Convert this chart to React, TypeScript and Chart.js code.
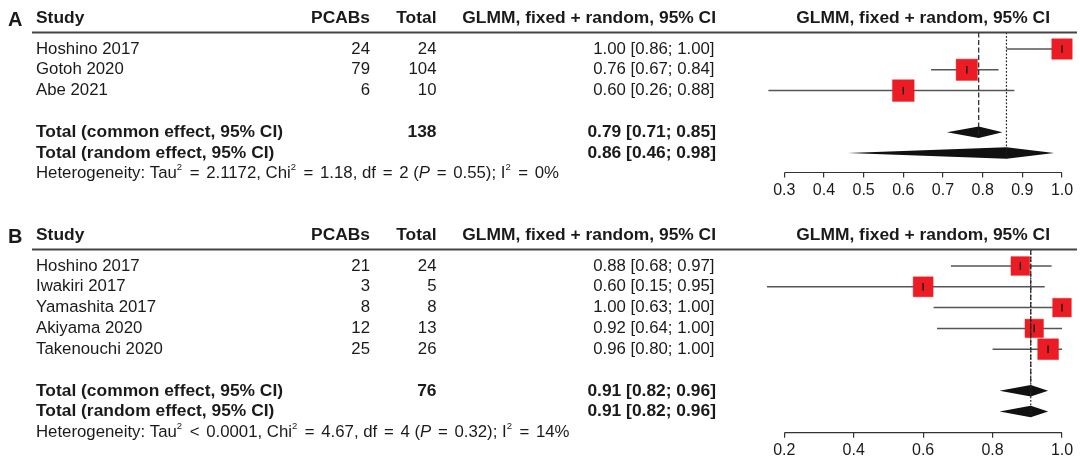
import React, { useEffect, useRef } from 'react';
import { Chart, registerables } from 'chart.js';

Chart.register(...registerables);

const FONT = '"Liberation Sans", Arial, Helvetica, sans-serif';
const TEXT = '#1a1a1a';

// ---------- Panel A data ----------
const studiesA = ['Hoshino 2017', 'Gotoh 2020', 'Abe 2021'];
const eventsA = [24, 79, 6];
const totalsA = [24, 104, 10];
const estimatesA = [1.0, 0.76, 0.6];
const lowersA = [0.86, 0.67, 0.26];
const uppersA = [1.0, 0.84, 0.88];
const weightsA = [31.2, 33.8, 35.0];
const commonA = [0.79, 0.71, 0.85];
const randomA = [0.86, 0.46, 0.98];
const pooledNA = 138;
const heteroA = ['=', '2.1172', '1.18', '2', '0.55', '0%'];
const ticksA = [0.3, 0.4, 0.5, 0.6, 0.7, 0.8, 0.9, 1.0];

// ---------- Panel B data ----------
const studiesB = ['Hoshino 2017', 'Iwakiri 2017', 'Yamashita 2017', 'Akiyama 2020', 'Takenouchi 2020'];
const eventsB = [21, 3, 8, 12, 25];
const totalsB = [24, 5, 8, 13, 26];
const estimatesB = [0.88, 0.6, 1.0, 0.92, 0.96];
const lowersB = [0.68, 0.15, 0.63, 0.64, 0.8];
const uppersB = [0.97, 0.95, 1.0, 1.0, 1.0];
const weightsB = [18.8, 21.3, 18.6, 18.2, 23.1];
const commonB = [0.91, 0.82, 0.96];
const randomB = [0.91, 0.82, 0.96];
const pooledNB = 76;
const heteroB = ['<', '0.0001', '4.67', '4', '0.32', '14%'];
const ticksB = [0.2, 0.4, 0.6, 0.8, 1.0];

const headerCols = ['Study', 'PCABs', 'Total', 'GLMM, fixed + random, 95% CI'];
const commonLabel = 'Total (common effect, 95% CI)';
const randomLabel = 'Total (random effect, 95% CI)';

type Panel = {
  label: string;
  studies: string[];
  events: number[];
  totals: number[];
  est: number[];
  lo: number[];
  hi: number[];
  weights: number[];
  common: number[];
  random: number[];
  pooledN: number;
  hetero: string[];
  ticks: number[];
};

type Layout = { height: number; row0: number; step: number; axisY: number; boxMax: number };

const panelA: Panel = {
  label: 'A', studies: studiesA, events: eventsA, totals: totalsA, est: estimatesA,
  lo: lowersA, hi: uppersA, weights: weightsA, common: commonA, random: randomA,
  pooledN: pooledNA, hetero: heteroA, ticks: ticksA,
};
const panelB: Panel = {
  label: 'B', studies: studiesB, events: eventsB, totals: totalsB, est: estimatesB,
  lo: lowersB, hi: uppersB, weights: weightsB, common: commonB, random: randomB,
  pooledN: pooledNB, hetero: heteroB, ticks: ticksB,
};

const layoutA: Layout = { height: 212, row0: 49, step: 20.8, axisY: 172.5, boxMax: 21.7 };
const layoutB: Layout = { height: 254, row0: 54, step: 20.8, axisY: 220.7, boxMax: 20.8 };

// layout constants (pixels)
const AX_LEFT_PX = 784.3;
const AX_RIGHT_PX = 1062;
const AREA_LEFT = 764;
const AREA_RIGHT = 1078;
const TICK_LEN = 5;
const TICK_PAD = 3.6;
const TICK_SIZE = 16;
const HEADER_ROW = -1.48;
const RULE_ROW = -0.79;
const STUDY_X = 36;
const PCABS_RIGHT = 370;
const TOTAL_RIGHT = 436.5;
const CI_RIGHT = 714.5;
const CI_BOLD_RIGHT = 716;
const REG_SIZE = 16.8;
const REG = `${REG_SIZE}px ${FONT}`;
const BOLD = `bold 17.4px ${FONT}`;
const DIAMOND_HALF = 5.75;
const OP_GAP = 6.7;

const fmt = (v: number) => v.toFixed(2);
const ciText = (e: number, l: number, h: number) => `${fmt(e)} [${fmt(l)}; ${fmt(h)}]`;

function xBounds(p: Panel, left: number, right: number) {
  const v0 = p.ticks[0];
  const v1 = p.ticks[p.ticks.length - 1];
  const ppu = (AX_RIGHT_PX - AX_LEFT_PX) / (v1 - v0);
  return { min: v0 - (AX_LEFT_PX - left) / ppu, max: v1 + (right - AX_RIGHT_PX) / ppu };
}

function yBounds(L: Layout, top: number, bottom: number) {
  return { min: (top - L.row0) / L.step, max: (bottom - L.row0) / L.step };
}

function makePlugin(p: Panel) {
  const n = p.studies.length;
  return {
    id: 'forestTable' + p.label,
    beforeDatasetsDraw(chart: any) {
      const { ctx } = chart;
      const xs = chart.scales.x;
      const ys = chart.scales.y;
      const pooled = [p.common, p.random];
      ctx.save();
      ctx.fillStyle = '#111';
      pooled.forEach((c, k) => {
        const yc = ys.getPixelForValue(n + 1 + k);
        ctx.beginPath();
        ctx.moveTo(xs.getPixelForValue(c[1]), yc);
        ctx.lineTo(xs.getPixelForValue(c[0]), yc - DIAMOND_HALF);
        ctx.lineTo(xs.getPixelForValue(c[2]), yc);
        ctx.lineTo(xs.getPixelForValue(c[0]), yc + DIAMOND_HALF);
        ctx.closePath();
        ctx.fill();
      });
      ctx.restore();
    },
    afterDraw(chart: any) {
      const { ctx } = chart;
      const xs = chart.scales.x;
      const ys = chart.scales.y;
      const rowY = (r: number) => ys.getPixelForValue(r);
      const v0 = p.ticks[0];
      const v1 = p.ticks[p.ticks.length - 1];
      ctx.save();
      ctx.fillStyle = TEXT;
      ctx.textBaseline = 'middle';

      // panel letter
      const hy = rowY(HEADER_ROW);
      ctx.font = `bold 20px ${FONT}`;
      ctx.textAlign = 'left';
      ctx.fillText(p.label, 8, hy + 2);

      // header
      ctx.font = BOLD;
      ctx.fillText(headerCols[0], STUDY_X, hy);
      ctx.textAlign = 'right';
      ctx.fillText(headerCols[1], PCABS_RIGHT, hy);
      ctx.fillText(headerCols[2], TOTAL_RIGHT, hy);
      ctx.fillText(headerCols[3], CI_BOLD_RIGHT, hy);
      ctx.textAlign = 'center';
      ctx.fillText(headerCols[3], (xs.getPixelForValue(v0) + xs.getPixelForValue(v1)) / 2, hy);

      // header rule
      const ry = rowY(RULE_ROW);
      ctx.strokeStyle = '#444';
      ctx.lineWidth = 2;
      ctx.beginPath();
      ctx.moveTo(32, ry);
      ctx.lineTo(1077, ry);
      ctx.stroke();

      // study rows
      ctx.font = REG;
      p.studies.forEach((s, i) => {
        const y = rowY(i);
        ctx.textAlign = 'left';
        ctx.fillText(s, STUDY_X, y);
        ctx.textAlign = 'right';
        ctx.fillText(String(p.events[i]), PCABS_RIGHT, y);
        ctx.fillText(String(p.totals[i]), TOTAL_RIGHT, y);
        ctx.fillText(ciText(p.est[i], p.lo[i], p.hi[i]), CI_RIGHT, y);
      });

      // pooled rows
      ctx.font = BOLD;
      const yc = rowY(n + 1);
      const yr = rowY(n + 2);
      ctx.textAlign = 'left';
      ctx.fillText(commonLabel, STUDY_X, yc);
      ctx.fillText(randomLabel, STUDY_X, yr);
      ctx.textAlign = 'right';
      ctx.fillText(String(p.pooledN), TOTAL_RIGHT, yc);
      ctx.fillText(ciText(p.common[0], p.common[1], p.common[2]), CI_BOLD_RIGHT, yc);
      ctx.fillText(ciText(p.random[0], p.random[1], p.random[2]), CI_BOLD_RIGHT, yr);

      // heterogeneity (plotmath-like spacing around relations)
      const yh = rowY(n + 3);
      const h = p.hetero;
      const segs: any[] = [
        { t: 'Heterogeneity: Tau' },
        { t: '2', sup: true },
        { t: h[0], op: true },
        { t: `${h[1]}, Chi` },
        { t: '2', sup: true },
        { t: '=', op: true },
        { t: `${h[2]}, df` },
        { t: '=', op: true },
        { t: `${h[3]} (` },
        { t: 'P', it: true },
        { t: '=', op: true },
        { t: `${h[4]}); I` },
        { t: '2', sup: true },
        { t: '=', op: true },
        { t: h[5] },
      ];
      ctx.textAlign = 'left';
      let cx = STUDY_X;
      segs.forEach((s) => {
        ctx.font = s.sup ? `9.5px ${FONT}` : s.it ? `italic ${REG_SIZE}px ${FONT}` : REG;
        if (s.op) cx += OP_GAP;
        ctx.fillText(s.t, cx, s.sup ? yh - 6 : yh);
        cx += ctx.measureText(s.t).width + (s.sup ? 0.8 : 0) + (s.op ? OP_GAP : 0);
      });

      // axis line
      ctx.strokeStyle = '#333';
      ctx.lineWidth = 1.2;
      ctx.beginPath();
      ctx.moveTo(xs.getPixelForValue(v0), xs.top);
      ctx.lineTo(xs.getPixelForValue(v1), xs.top);
      ctx.stroke();
      ctx.restore();
    },
  };
}

function makeConfig(p: Panel, L: Layout): any {
  const n = p.studies.length;
  const axisH = TICK_LEN + TICK_SIZE * 1.2 + 2 * TICK_PAD;
  const xb = xBounds(p, AREA_LEFT, AREA_RIGHT);
  const yb = yBounds(L, 0, L.axisY);
  const maxW = Math.max(...p.weights);
  const rows = p.studies.map((_, i) => i);

  const ciData: any[] = [];
  rows.forEach((i) => {
    ciData.push({ x: p.lo[i], y: i }, { x: p.hi[i], y: i }, { x: null, y: null });
  });
  const points = rows.map((i) => ({ x: p.est[i], y: i }));

  return {
    type: 'scatter',
    data: {
      datasets: [
        {
          type: 'line',
          data: [{ x: p.common[0], y: RULE_ROW }, { x: p.common[0], y: n + 1 + 0.28 }],
          borderColor: '#222',
          borderWidth: 1.2,
          borderDash: [5, 2.5],
          pointRadius: 0,
          fill: false,
          order: 0,
        },
        {
          type: 'line',
          data: [{ x: p.random[0], y: RULE_ROW }, { x: p.random[0], y: n + 2 + 0.28 }],
          borderColor: '#222',
          borderWidth: 1.2,
          borderDash: [1.6, 1.9],
          pointRadius: 0,
          fill: false,
          order: 0,
        },
        {
          type: 'scatter',
          data: points,
          pointStyle: 'line',
          pointRotation: 90,
          pointRadius: 3.8,
          pointBorderColor: '#111',
          pointBorderWidth: 1.4,
          clip: false,
          order: 1,
        },
        {
          type: 'scatter',
          data: points,
          pointStyle: 'rect',
          pointRadius: p.weights.map((w) => (L.boxMax * Math.sqrt(w / maxW)) / Math.SQRT2),
          pointBackgroundColor: '#ec1c24',
          pointBorderColor: 'rgba(236,28,36,0.55)',
          pointBorderWidth: 0.8,
          clip: false,
          order: 2,
        },
        {
          type: 'line',
          data: ciData,
          borderColor: '#555',
          borderWidth: 1.5,
          pointRadius: 0,
          spanGaps: false,
          fill: false,
          order: 3,
        },
      ],
    },
    options: {
      responsive: false,
      animation: false,
      events: [],
      layout: {
        autoPadding: false,
        padding: {
          left: AREA_LEFT,
          right: 1080 - AREA_RIGHT,
          top: 0,
          bottom: L.height - L.axisY - axisH,
        },
      },
      plugins: {
        legend: { display: false },
        tooltip: { enabled: false },
        title: { display: false },
      },
      scales: {
        x: {
          type: 'linear',
          position: 'bottom',
          min: xb.min,
          max: xb.max,
          afterBuildTicks: (s: any) => {
            s.ticks = p.ticks.map((v) => ({ value: v }));
          },
          ticks: {
            callback: (v: any) => Number(v).toFixed(1),
            autoSkip: false,
            maxRotation: 0,
            minRotation: 0,
            padding: TICK_PAD,
            color: TEXT,
            font: { family: FONT, size: TICK_SIZE },
          },
          grid: {
            display: true,
            drawOnChartArea: false,
            drawTicks: true,
            tickLength: TICK_LEN,
            color: '#333',
            lineWidth: 1.2,
          },
          border: { display: false },
        },
        y: {
          type: 'linear',
          display: false,
          reverse: true,
          min: yb.min,
          max: yb.max,
        },
      },
    },
    plugins: [makePlugin(p)],
  };
}

// Re-anchor scale bounds to the chart area that the layout actually produced.
function anchor(chart: any, p: Panel, L: Layout) {
  for (let k = 0; k < 2; k++) {
    const a = chart.chartArea;
    const xb = xBounds(p, a.left, a.right);
    const yb = yBounds(L, a.top, a.bottom);
    const sc = chart.config.options.scales;
    sc.x.min = xb.min;
    sc.x.max = xb.max;
    sc.y.min = yb.min;
    sc.y.max = yb.max;
    chart.update('none');
  }
}

export default function App() {
  const refA = useRef<HTMLCanvasElement>(null);
  const refB = useRef<HTMLCanvasElement>(null);

  useEffect(() => {
    const a = new Chart(refA.current as HTMLCanvasElement, makeConfig(panelA, layoutA));
    const b = new Chart(refB.current as HTMLCanvasElement, makeConfig(panelB, layoutB));
    anchor(a, panelA, layoutA);
    anchor(b, panelB, layoutB);
    return () => {
      a.destroy();
      b.destroy();
    };
  }, []);

  return (
    <div style={{ position: 'fixed', left: 0, top: 0, width: 1080, height: 466, background: '#fff' }}>
      <canvas
        ref={refA}
        width={1080}
        height={layoutA.height}
        style={{ position: 'absolute', left: 0, top: 0, width: 1080, height: layoutA.height }}
      />
      <canvas
        ref={refB}
        width={1080}
        height={layoutB.height}
        style={{ position: 'absolute', left: 0, top: layoutA.height, width: 1080, height: layoutB.height }}
      />
    </div>
  );
}
